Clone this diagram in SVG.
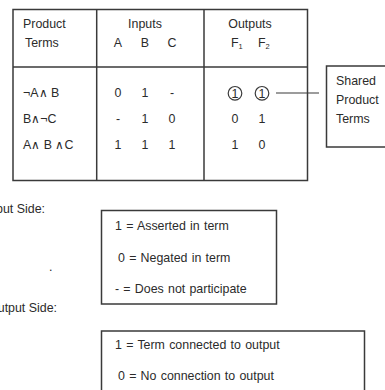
<svg xmlns="http://www.w3.org/2000/svg" width="385" height="390" viewBox="0 0 385 390">
  <style>
    text { font-family: "Liberation Sans", Arial, sans-serif; font-size: 12.4px; fill: #2b2b2b; }
    .mid { text-anchor: middle; }
    .end { text-anchor: end; }
    .note { word-spacing: 0.8px; }
    .frame { fill: none; stroke: #3a3a3a; stroke-width: 1.5; }
    .thin { fill: none; stroke: #3a3a3a; stroke-width: 1.2; }
  </style>
  <rect width="385" height="390" fill="#ffffff"/>

  <!-- truth table -->
  <g id="table">
    <rect class="frame" x="13" y="9.5" width="294.5" height="171"/>
    <line class="frame" x1="96.7" y1="9.5" x2="96.7" y2="180.5"/>
    <line class="frame" x1="204" y1="9.5" x2="204" y2="180.5"/>
    <line class="frame" x1="13" y1="67" x2="307.5" y2="67"/>

    <text x="23" y="28">Product</text>
    <text x="25" y="47">Terms</text>
    <text class="mid" x="145" y="28">Inputs</text>
    <text class="mid" x="118" y="47">A</text>
    <text class="mid" x="145" y="47">B</text>
    <text class="mid" x="172" y="47">C</text>
    <text class="mid" x="250" y="28">Outputs</text>
    <text x="231" y="47">F<tspan font-size="7.5" dy="2">1</tspan></text>
    <text x="258" y="47">F<tspan font-size="7.5" dy="2">2</tspan></text>

    <text x="23" y="97">¬A∧ B</text>
    <text x="23" y="123">B∧¬C</text>
    <text x="23" y="149">A∧ B ∧C</text>

    <text class="mid" x="118" y="97">0</text>
    <text class="mid" x="145" y="97">1</text>
    <text class="mid" x="172" y="97">-</text>
    <text class="mid" x="118" y="123">-</text>
    <text class="mid" x="145" y="123">1</text>
    <text class="mid" x="172" y="123">0</text>
    <text class="mid" x="118" y="149">1</text>
    <text class="mid" x="145" y="149">1</text>
    <text class="mid" x="172" y="149">1</text>

    <text class="mid" x="235" y="97.5">1</text>
    <text class="mid" x="262" y="97.5">1</text>
    <text class="mid" x="235" y="123">0</text>
    <text class="mid" x="262" y="123">1</text>
    <text class="mid" x="235" y="149">1</text>
    <text class="mid" x="262" y="149">0</text>
  </g>

  <!-- rings marking the shared product term -->
  <g id="shared-marks">
    <circle class="thin" cx="235" cy="93.3" r="6.8"/>
    <circle class="thin" cx="262" cy="93.3" r="6.8"/>
  </g>

  <g id="connectors">
    <line class="thin" x1="276" y1="93" x2="319" y2="93"/>
  </g>

  <g id="shared-note">
    <rect class="frame" x="326.5" y="66" width="62" height="81"/>
    <text x="336" y="85">Shared</text>
    <text x="336" y="104">Product</text>
    <text x="336" y="123">Terms</text>
  </g>

  <!-- input side legend -->
  <text class="end" x="45" y="213">Input Side:</text>
  <text x="49" y="271">.</text>
  <g id="input-legend">
    <rect class="frame" x="101.5" y="210.5" width="175" height="93.5"/>
    <text class="note" x="115" y="230">1 = Asserted in term</text>
    <text class="note" x="118" y="262">0 = Negated in term</text>
    <text class="note" x="115" y="293">-  = Does not participate</text>
  </g>

  <!-- output side legend -->
  <text class="end" x="57" y="312">Output Side:</text>
  <g id="output-legend">
    <rect class="frame" x="101.5" y="331" width="263" height="70"/>
    <text class="note" x="115" y="349">1 =  Term connected to output</text>
    <text class="note" x="118" y="380">0 = No connection to output</text>
  </g>
</svg>
